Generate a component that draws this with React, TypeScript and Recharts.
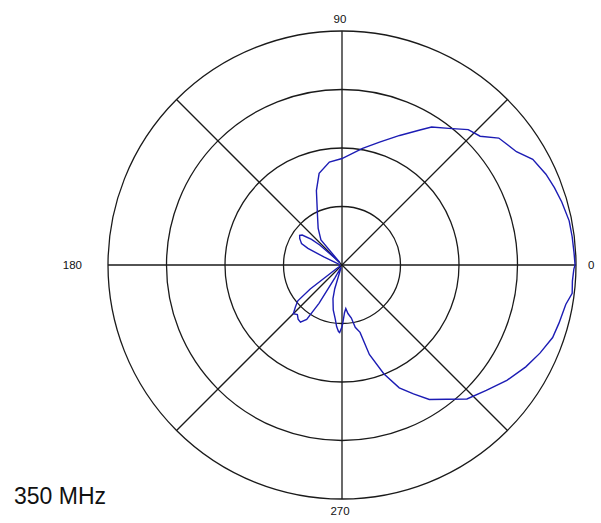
import { RadarChart, Radar, PolarGrid, PolarAngleAxis, PolarRadiusAxis } from "recharts";

// measured pattern, 350 MHz, normalized field strength
const angles = [
  0, 3, 7, 11, 16, 20, 24, 29, 33, 39, 43, 47, 52, 57, 60, 66, 73, 80, 90, 97,
  104, 109, 117, 123, 130, 132, 136, 138, 140, 143, 145, 148, 150, 152, 154, 156, 158, 165, 180, 195,
  210, 215, 217, 219, 222, 225, 228, 231, 234, 237, 239, 241, 245, 250, 253, 255, 259, 263, 265, 267,
  268, 270, 271, 273, 275, 277, 280, 282, 285, 287, 291, 295, 299, 303, 308, 313, 319, 325, 331, 336,
  341, 345, 350, 353, 356, 359,
];
const gain = [
  0.996, 0.993, 0.991, 0.989, 0.977, 0.966, 0.954, 0.932, 0.889, 0.862, 0.807, 0.791, 0.741, 0.703, 0.666, 0.606, 0.549, 0.506, 0.455, 0.443,
  0.404, 0.336, 0.23, 0.187, 0.14, 0.013, 0.043, 0.128, 0.17, 0.213, 0.221, 0.213, 0.204, 0.196, 0.162, 0.085, 0.034, 0.013, 0.009, 0.009,
  0.013, 0.043, 0.17, 0.243, 0.268, 0.294, 0.285, 0.298, 0.302, 0.277, 0.191, 0.064, 0.013, 0.013, 0.106, 0.149, 0.196, 0.234, 0.264, 0.285,
  0.289, 0.264, 0.243, 0.204, 0.187, 0.209, 0.23, 0.272, 0.298, 0.4, 0.498, 0.579, 0.63, 0.685, 0.728, 0.783, 0.817, 0.86, 0.898, 0.926,
  0.952, 0.96, 0.971, 0.991, 0.987, 0.991,
];
const gridAngles = [0, 45, 90, 135, 180, 225, 270, 315];
const ringValues = [0, 0.25, 0.5, 0.75, 1];
const labeledAngles = [0, 90, 180, 270];
const caption = "350 MHz";

const data = angles.map((a, i) => ({ angle: a, gain: gain[i] }));

const font = '"Liberation Sans", Arial, sans-serif';

function AngleTick(props: any) {
  const { x, y, payload } = props;
  const v = payload.value;
  if (!labeledAngles.includes(v)) return null;
  let tx = x;
  let ty = y;
  let anchor = "middle";
  if (v === 0) {
    tx = x + 4;
    ty = y + 4;
    anchor = "start";
  } else if (v === 90) {
    tx = x - 2;
    ty = y;
  } else if (v === 180) {
    tx = x - 18;
    ty = y + 4;
    anchor = "end";
  } else {
    tx = x - 2;
    ty = y + 8;
  }
  return (
    <text x={tx} y={ty} textAnchor={anchor} fontSize={11.5} fontFamily={font} fill="#111">
      {v}
    </text>
  );
}

export default function App() {
  return (
    <div style={{ position: "absolute", left: 0, top: 0, width: 601, height: 523, background: "#fff" }}>
      <RadarChart
        width={601}
        height={523}
        cx={342}
        cy={265}
        outerRadius={234}
        startAngle={0}
        endAngle={360}
        data={data}
        margin={{ top: 0, right: 0, bottom: 0, left: 0 }}
      >
        <PolarGrid gridType="circle" stroke="#1a1a1a" strokeWidth={1.3} />
        <PolarAngleAxis
          dataKey="angle"
          type="number"
          domain={[0, 360]}
          ticks={gridAngles}
          tick={<AngleTick />}
          axisLine={false}
          tickLine={false}
        />
        <PolarRadiusAxis
          type="number"
          domain={[0, 1]}
          ticks={ringValues as any}
          tickCount={5}
          allowDecimals
          tick={false}
          axisLine={false}
        />
        <Radar
          dataKey="gain"
          stroke="#1c1cb4"
          strokeWidth={1.4}
          fill="none"
          fillOpacity={0}
          dot={false}
          isAnimationActive={false}
        />
      </RadarChart>
      <div
        style={{
          position: "absolute",
          left: 14,
          top: 485,
          fontFamily: font,
          fontSize: 23,
          lineHeight: "23px",
          color: "#111",
        }}
      >
        {caption}
      </div>
    </div>
  );
}
